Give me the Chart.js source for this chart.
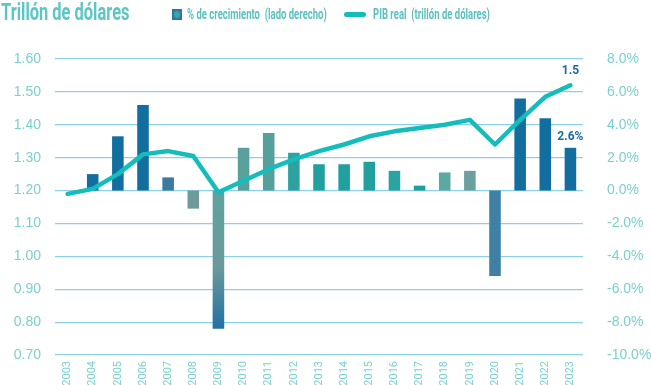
<!DOCTYPE html>
<html><head><meta charset="utf-8">
<script src="https://cdn.jsdelivr.net/npm/chart.js@4/dist/chart.umd.min.js"></script>
<style>
html,body{margin:0;padding:0;background:#fff;}
#wrap{position:relative;width:651px;height:385px;}
#title{position:absolute;left:1px;top:-1px;font-family:Roboto,"Open Sans",sans-serif;font-weight:bold;font-size:23.5px;color:#5cc6c6;line-height:27px;white-space:nowrap;transform:scaleX(0.7);transform-origin:0 0;}
.lg{position:absolute;top:6px;font-family:Roboto,sans-serif;font-weight:bold;font-size:14px;color:#5cc0c0;line-height:17px;white-space:nowrap;transform:scaleX(0.68);transform-origin:0 0;}
#box{position:absolute;left:172px;top:9px;width:10px;height:11px;background:#2f78a3;}
#box i{position:absolute;left:2px;top:2px;width:6px;height:7px;border-radius:50%;background:#3aa7a3;}
#ln{position:absolute;left:344px;top:12px;width:22px;height:5px;border-radius:3px;background:#14bcbc;}
canvas{position:absolute;left:0;top:0;}
</style></head>
<body><div id="wrap">
<canvas id="c" width="651" height="385"></canvas>
<div id="title">Trillón de dólares</div>
<div id="box"><i></i></div><div class="lg" style="left:187px">% de crecimiento&nbsp; (lado derecho)</div>
<div id="ln"></div><div class="lg" style="left:373px">PIB real&nbsp; (trillón de dólares)</div>
</div>
<script>
const years = ["2003","2004","2005","2006","2007","2008","2009","2010","2011","2012","2013","2014","2015","2016","2017","2018","2019","2020","2021","2022","2023"];
const growthPct = [null,1.0,3.3,5.2,0.8,-1.1,-8.4,2.6,3.5,2.3,1.6,1.6,1.75,1.2,0.3,1.1,1.2,-5.2,5.6,4.4,2.6];
const gdpTrillion = [1.19,1.205,1.25,1.31,1.32,1.305,1.195,1.23,1.265,1.295,1.32,1.34,1.365,1.38,1.39,1.40,1.415,1.34,1.415,1.485,1.52];
const leftTicks = {min:0.7,max:1.6,step:0.1};
const rightTicks = {min:-10,max:8,step:2};
const barColors = ["#136ea0","#136ea0","#136ea0","#136ea0","#3b7aa0","#6e9a9b","grad","#5aa19d","#55a09c","#2ea29f","#22a0a0","#22a0a0","#22a0a0","#2aa3a3","#1e9e9e","#5ca8a3","#6ba09e","#3f80a5","#136ea0","#136ea0","#136ea0"];

const tickColor = "#7ccfcf";
const labelsPlugin = {
  id:'endLabels',
  afterDatasetsDraw(chart){
    const ctx = chart.ctx;
    ctx.save();
    ctx.fillStyle = "#1a6aa6";
    ctx.font = "bold 12px Roboto, sans-serif";
    ctx.textAlign = "center";
    ctx.textBaseline = "bottom";
    const lm = chart.getDatasetMeta(1).data;
    const lp = lm[lm.length-1];
    ctx.fillText(gdpTrillion[gdpTrillion.length-1].toFixed(1), lp.x, lp.y-8);
    const bm = chart.getDatasetMeta(0).data;
    const bp = bm[bm.length-1];
    ctx.fillText(growthPct[growthPct.length-1].toFixed(1)+"%", bp.x, bp.y-5);
    ctx.restore();
  }
};

new Chart(document.getElementById('c'), {
  data:{
    labels: years,
    datasets:[
      {type:'bar', label:'% de crecimiento (lado derecho)', data: growthPct, yAxisID:'y1', order:2,
       barPercentage:0.46, categoryPercentage:1.0,
       backgroundColor:(ctx)=>{
         const c = barColors[ctx.dataIndex];
         if(c!=="grad") return c;
         const ch = ctx.chart; const a = ch.chartArea;
         if(!a) return "#5ea39e";
         const y1 = ch.scales.y1;
         const g = ch.ctx.createLinearGradient(0, y1.getPixelForValue(0), 0, y1.getPixelForValue(-8.4));
         g.addColorStop(0,"#5ea39e"); g.addColorStop(0.55,"#6b9a9c"); g.addColorStop(1,"#2270a3");
         return g;
       }},
      {type:'line', label:'PIB real (trillón de dólares)', data: gdpTrillion, yAxisID:'y', order:1,
       borderColor:'#14bcbc', borderWidth:4.5, pointRadius:0, tension:0, borderJoinStyle:'round', borderCapStyle:'round', fill:false}
    ]
  },
  options:{
    responsive:false, animation:false,
    layout:{padding:{top:59,left:0,right:0,bottom:0}},
    plugins:{legend:{display:false}, tooltip:{enabled:false}},
    scales:{
      x:{
        grid:{display:false, drawTicks:false}, border:{display:false},
        ticks:{color:tickColor, font:{size:11, family:"Roboto, sans-serif"}, minRotation:90, maxRotation:90, padding:6},
        afterFit(s){ s.height = 30; }
      },
      y:{
        position:'left', min:leftTicks.min, max:leftTicks.max,
        grid:{color:'#8ad2ec', lineWidth:1.2, drawTicks:false}, border:{display:false},
        ticks:{stepSize:leftTicks.step, color:tickColor, font:{size:14, family:"'Liberation Sans', sans-serif"}, padding:14, callback:v=>v.toFixed(2)},
        afterFit(s){ s.width = 55; }
      },
      y1:{
        position:'right', min:rightTicks.min, max:rightTicks.max,
        grid:{display:false}, border:{display:false},
        ticks:{stepSize:rightTicks.step, color:tickColor, font:{size:14, family:"'Liberation Sans', sans-serif"}, padding:16, callback:v=>v.toFixed(1)+"%"},
        afterFit(s){ s.width = 68; }
      }
    }
  },
  plugins:[labelsPlugin]
});
</script>
</body></html>
